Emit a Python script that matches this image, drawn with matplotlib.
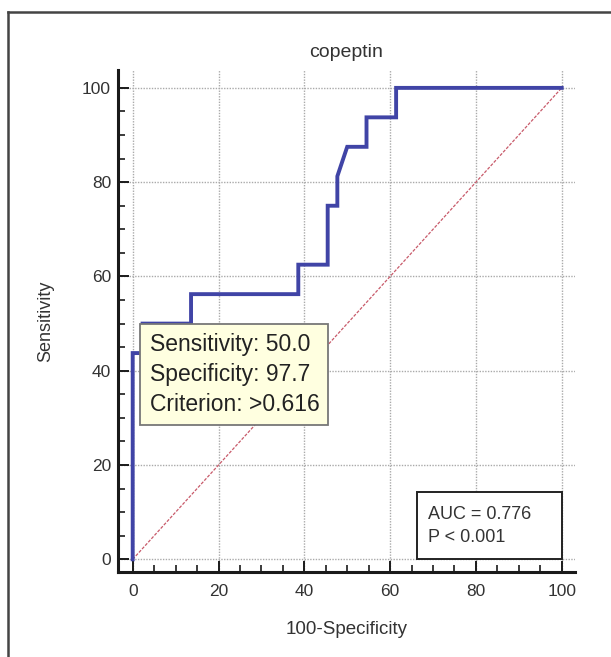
import matplotlib
matplotlib.use("Agg")
import matplotlib.pyplot as plt
from matplotlib.lines import Line2D
from matplotlib.patches import Rectangle
from matplotlib.ticker import MultipleLocator

# ROC curve data (100-Specificity, Sensitivity)
fpr = [0, 0, 2.3, 2.3, 13.6, 13.6, 38.6, 38.6, 45.45, 45.45, 47.7, 47.7, 50.0, 54.5, 54.5, 61.4, 61.4, 100]
tpr = [0, 43.75, 43.75, 50.0, 50.0, 56.25, 56.25, 62.5, 62.5, 75.0, 75.0, 81.25, 87.5, 87.5, 93.75, 93.75, 100, 100]
ref_line = [0, 100]

title = "copeptin"
xlabel = "100-Specificity"
ylabel = "Sensitivity"
xticks = [0, 20, 40, 60, 80, 100]
yticks = [0, 20, 40, 60, 80, 100]

opt_point = (2.3, 50.0)
opt_text = "Sensitivity: 50.0\nSpecificity: 97.7\nCriterion: >0.616"
auc_text = "AUC = 0.776\nP < 0.001"

plt.rcParams['font.family'] = ['Liberation Sans', 'DejaVu Sans']
txt_color = '#333333'

fig = plt.figure(figsize=(6.11, 6.57), dpi=100)
ax = fig.add_axes([0.1931, 0.1298, 0.748, 0.7637])

ax.set_xlim(-3.43, 103.1)
ax.set_ylim(-2.63, 103.8)

ax.plot(ref_line, ref_line, color='#c85a6a', lw=0.9, linestyle=(0, (2.5, 1.2)), zorder=2)
ax.plot(fpr, tpr, color='#4044a6', lw=2.8, zorder=3, solid_joinstyle='miter')

ax.set_xticks(xticks)
ax.set_yticks(yticks)
ax.xaxis.set_minor_locator(MultipleLocator(5))
ax.yaxis.set_minor_locator(MultipleLocator(5))
ax.grid(True, which='major', color='#aaaaaa', lw=1.0, linestyle=(0, (1, 1)))
ax.set_axisbelow(True)

for s in ['top', 'right']:
    ax.spines[s].set_visible(False)
for s in ['left', 'bottom']:
    ax.spines[s].set_linewidth(2.2)
    ax.spines[s].set_color('#1a1a1a')

ax.tick_params(which='major', direction='in', length=8, width=1.4, color='#1a1a1a',
               labelsize=12.5, labelcolor=txt_color)
ax.tick_params(which='minor', direction='in', length=5, width=1.2, color='#1a1a1a')
ax.tick_params(axis='x', which='major', pad=9)
ax.tick_params(axis='y', which='major', pad=5)

ax.set_xlabel(xlabel, fontsize=13.5, color=txt_color, va='center')
ax.xaxis.set_label_coords(0.5, -0.116)
ax.set_ylabel(ylabel, fontsize=13, color=txt_color)
ax.yaxis.set_label_coords(-0.14, 0.5)
ax.text(0.5, 1.035, title, transform=ax.transAxes, ha='center', va='center',
        fontsize=14, color=txt_color)

# optimal criterion box
ax.annotate(opt_text, xy=opt_point, xytext=(5, -7), textcoords='offset points',
            ha='left', va='top', fontsize=16.5, color='#222222', linespacing=1.38,
            bbox=dict(boxstyle='square,pad=0.4', facecolor='#ffffe0', edgecolor='#777777', lw=1.3),
            zorder=5)

# AUC box anchored at lower right of data area
ax.add_patch(Rectangle((66.2, 0), 100 - 66.2, 14.2, facecolor='white', edgecolor='#222222',
                       lw=1.4, zorder=5))
ax.text(68.8, 7.1, auc_text, ha='left', va='center', fontsize=13, color='#333333',
        linespacing=1.45, zorder=6)

# outer frame lines
fig.add_artist(Line2D([8 / 611, 8 / 611], [0, 1 - 12 / 657], color='#444444', lw=1.8))
fig.add_artist(Line2D([8 / 611, 1], [1 - 12 / 657, 1 - 12 / 657], color='#444444', lw=1.8))

fig.savefig('out.png', dpi=100)
